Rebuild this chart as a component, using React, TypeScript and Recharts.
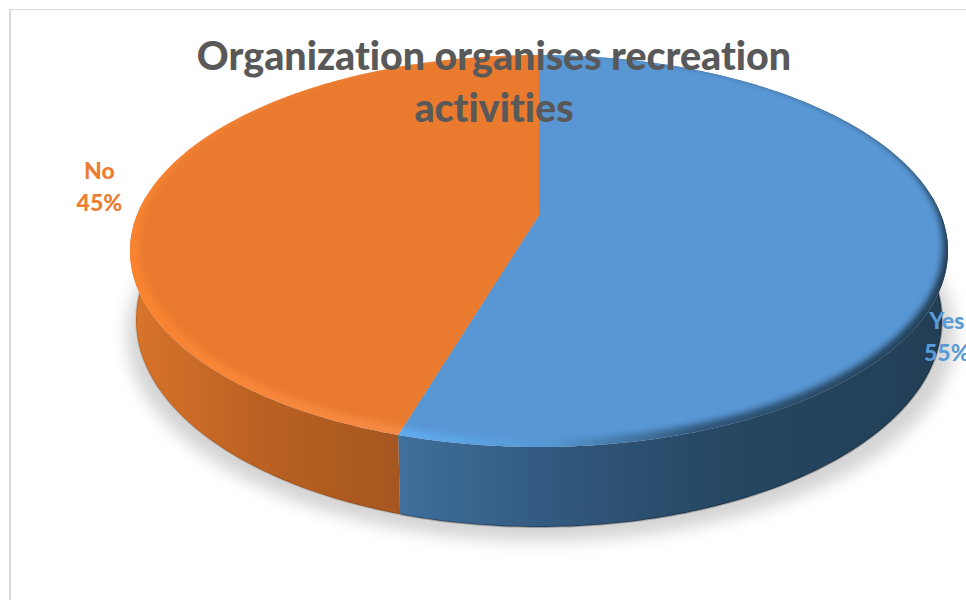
import { PieChart, Pie, Cell } from "recharts";

const categories = ["Yes", "No"];
const shares = [55, 45];
const titleLines = ["Organization organises recreation", "activities"];

const pieData = categories.map((name, i) => ({ name, value: shares[i] }));

const WIDTH = 966;
const HEIGHT = 600;
const FONT = "Lato, 'Open Sans', sans-serif";

const LABEL_COLORS = ["#5B9BD5", "#ED7D31"];
const TOP_COLORS = ["#5896D4", "#E97A2E"];
const RIM_FILLS = ["url(#blueRim)", "url(#orangeRim)"];
const SIDE_FILLS = ["url(#blueSide)", "url(#orangeSide)"];
const EDGE_OPACITY = [0.25, 0.1];
// where each label sits relative to the rim point at the slice's middle
const LABEL_SHIFT = [{ dx: -1, dy: 84 }, { dx: -53, dy: -8 }];

// Discs of the tilted pie: each outline is an ellipse, the circle's centre lands on apexY
const topDisc = { rx: 409, apexY: 215, top: 55, bottom: 447, shift: 0 };
const flatDisc = { rx: 402, apexY: 215, top: 53, bottom: 439, shift: 2 };
const baseDisc = { rx: 403, apexY: 282, top: 113, bottom: 527, shift: 0 };

// theta is clockwise from 12 o'clock, in degrees
function project(theta, disc, cx) {
  const a = disc.apexY - disc.top;
  const b = disc.bottom - disc.apexY;
  const k = (b - a) / (b + a);
  // horizontal foreshortening is weaker than the vertical one
  const kx = k * 0.55;
  const u = Math.sin((theta * Math.PI) / 180);
  const v = -Math.cos((theta * Math.PI) / 180);
  const dx = (disc.rx * u) / (1 - kx * v);
  const dy = (a * (1 + k) * v) / (1 - k * v);

  // walk along that ray from the apex until it meets the outline
  const ry = (a + b) / 2;
  const oy = (a - b) / 2;
  const qa = (dx * dx) / (disc.rx * disc.rx) + (dy * dy) / (ry * ry);
  const qb = (2 * oy * dy) / (ry * ry);
  const qc = (oy * oy) / (ry * ry) - 1;
  const t = (-qb + Math.sqrt(qb * qb - 4 * qa * qc)) / (2 * qa);
  return { x: cx + disc.shift + t * dx, y: disc.apexY + t * dy };
}

function arcPoints(from, to, disc, cx) {
  const pts = [];
  const steps = Math.max(2, Math.ceil(Math.abs(to - from)));
  for (let i = 0; i <= steps; i++) {
    pts.push(project(from + ((to - from) * i) / steps, disc, cx));
  }
  return pts;
}

const toLine = (pts) => pts.map((p, i) => `${i ? "L" : "M"}${p.x.toFixed(1)} ${p.y.toFixed(1)}`).join("");
const toPath = (pts) => toLine(pts) + "Z";

// Draws one slice as wall + bevel rim + flat top
function TiltedSlice(props) {
  const { cx, startAngle, endAngle, index } = props;
  const from = 90 - startAngle;
  const to = 90 - endAngle;
  const apex = { x: cx, y: topDisc.apexY };
  const topPath = toPath([apex, ...arcPoints(from, to, topDisc, cx)]);

  // only the part of the rim facing the viewer has a visible wall
  const wallFrom = Math.max(from, 84);
  const wallTo = Math.min(to, 276);
  const wallPath = toPath([
    ...arcPoints(wallFrom, wallTo, topDisc, cx),
    ...arcPoints(wallFrom, wallTo, baseDisc, cx).reverse(),
  ]);
  const edge = toLine(arcPoints(wallFrom, wallTo, baseDisc, cx));
  const clipId = `slice-clip-${index}`;

  return (
    <g>
      <path d={wallPath} fill={SIDE_FILLS[index]} />
      <path d={edge} fill="none" stroke="#000" strokeOpacity={EDGE_OPACITY[index]} strokeWidth={2} />
      <clipPath id={clipId}>
        <path d={topPath} />
      </clipPath>
      <path d={topPath} fill={RIM_FILLS[index]} />
      <g clipPath={`url(#${clipId})`}>
        <path d={toPath(arcPoints(0, 360, flatDisc, cx))} fill={TOP_COLORS[index]} filter="url(#soften)" />
      </g>
    </g>
  );
}

function renderLabel({ cx, midAngle, index, name, percent }) {
  const rim = project(90 - midAngle, topDisc, cx);
  const x = rim.x + LABEL_SHIFT[index].dx;
  const y = rim.y + LABEL_SHIFT[index].dy;
  return (
    <text x={x} y={y} textAnchor="middle" fill={LABEL_COLORS[index]} fontFamily={FONT} fontWeight={900} fontSize={23}>
      <tspan x={x} dy={0}>{name}</tspan>
      <tspan x={x} dy={32}>{`${Math.round(percent * 100)}%`}</tspan>
    </text>
  );
}

export default function App() {
  return (
    <div style={{ position: "absolute", left: 0, top: 0, width: WIDTH, height: HEIGHT, overflow: "hidden", background: "#fff" }}>
      <div style={{ position: "absolute", left: 9, top: 9, right: 0, bottom: 0, borderLeft: "2px solid #d9d9d9", borderTop: "1.5px solid #d9d9d9" }} />
      <div style={{ position: "absolute", left: 0, top: 0 }}>
        <PieChart width={WIDTH} height={HEIGHT} margin={{ top: 0, right: 0, bottom: 0, left: 0 }}>
          <defs>
            <linearGradient id="orangeSide" gradientUnits="userSpaceOnUse" x1={130} x2={400} y1={0} y2={0}>
              <stop offset="0%" stopColor="#D9742B" />
              <stop offset="45%" stopColor="#BC6223" />
              <stop offset="100%" stopColor="#A5561F" />
            </linearGradient>
            <linearGradient id="blueSide" gradientUnits="userSpaceOnUse" x1={400} x2={948} y1={0} y2={0}>
              <stop offset="0%" stopColor="#3F6F9C" />
              <stop offset="30%" stopColor="#31577C" />
              <stop offset="60%" stopColor="#254762" />
              <stop offset="100%" stopColor="#223E55" />
            </linearGradient>
            <linearGradient id="orangeRim" gradientUnits="userSpaceOnUse" x1={130} x2={400} y1={0} y2={0}>
              <stop offset="0%" stopColor="#F98330" />
              <stop offset="100%" stopColor="#F58B45" />
            </linearGradient>
            <linearGradient id="blueRim" gradientUnits="userSpaceOnUse" x1={400} x2={948} y1={0} y2={0}>
              <stop offset="0%" stopColor="#60ABF0" />
              <stop offset="28%" stopColor="#5596D0" />
              <stop offset="55%" stopColor="#2F5578" />
              <stop offset="100%" stopColor="#223E55" />
            </linearGradient>
            <filter id="soften" x="-5%" y="-5%" width="110%" height="110%">
              <feGaussianBlur stdDeviation="3" />
            </filter>
            <filter id="dropShadow" x="-10%" y="-10%" width="120%" height="120%">
              <feGaussianBlur stdDeviation="8" />
            </filter>
          </defs>
          <ellipse cx={541} cy={335} rx={414} ry={206} fill="#000" fillOpacity={0.17} filter="url(#dropShadow)" />
          <Pie
            data={pieData}
            dataKey="value"
            nameKey="name"
            cx={539}
            cy={215}
            outerRadius={409}
            startAngle={90}
            endAngle={-270}
            paddingAngle={0}
            stroke="none"
            shape={TiltedSlice}
            label={renderLabel}
            labelLine={false}
            isAnimationActive={false}
          >
            {pieData.map((entry, i) => (
              <Cell key={entry.name} fill={TOP_COLORS[i]} />
            ))}
          </Pie>
        </PieChart>
      </div>
      {/* the title runs across the pie, so it gets its own layer above the chart */}
      <svg width={WIDTH} height={HEIGHT} style={{ position: "absolute", left: 0, top: 0, pointerEvents: "none" }}>
        <text textAnchor="middle" fill="#595959" fontFamily={FONT} fontWeight={900} fontSize={39.4} style={{ fontVariantLigatures: "none" }}>
          <tspan x={494} y={70}>{titleLines[0]}</tspan>
          <tspan x={494} y={122}>{titleLines[1]}</tspan>
        </text>
      </svg>
    </div>
  );
}
